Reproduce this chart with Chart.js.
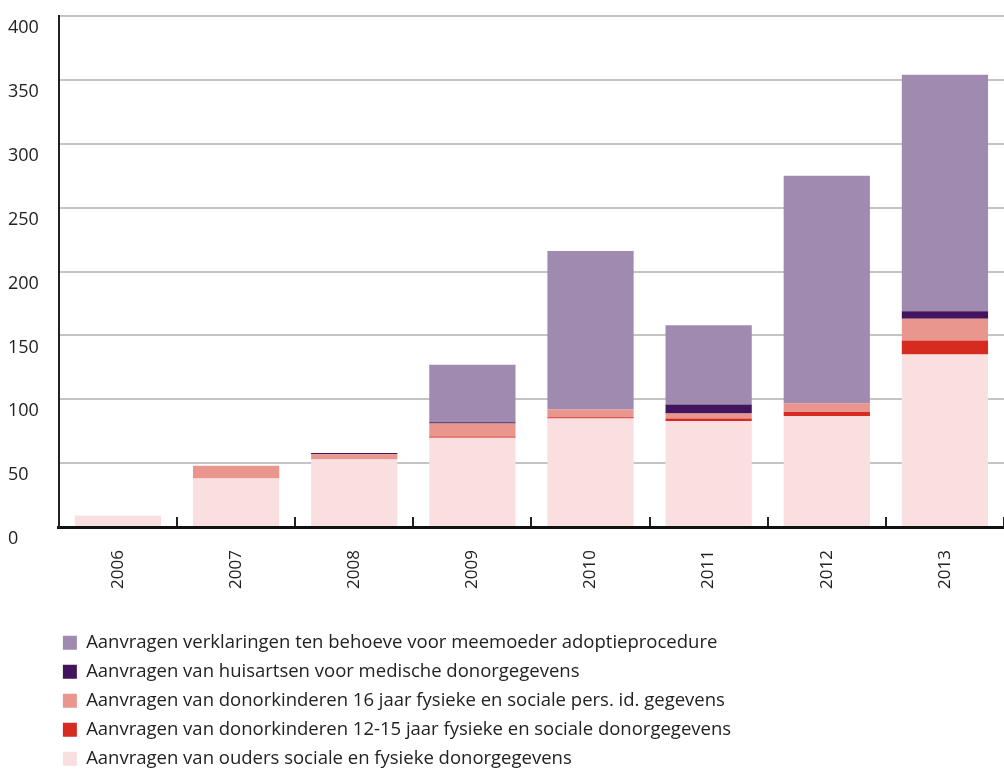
<!DOCTYPE html>
<html>
<head>
<meta charset="utf-8">
<script src="https://cdn.jsdelivr.net/npm/chart.js@4"></script>
<style>
    html, body { margin: 0; padding: 0; background: #fff; }
    #wrap { width: 1004px; height: 769px; }
</style>
</head>
<body>
<div id="wrap"><canvas id="aanvragen-chart"></canvas></div>
<script>
// Years on the x axis
const years = ['2006', '2007', '2008', '2009', '2010', '2011', '2012', '2013'];

// Series values, bottom of the stack first
const ouders = [9, 38, 53, 70, 85, 83, 87, 135];
const donorkinderen1215 = [0, 0, 0, 1, 1, 2, 3, 11];
const donorkinderen16 = [0, 10, 4, 10, 6, 4, 7, 17];
const huisartsen = [0, 0, 1, 1, 0, 7, 0, 6];
const meemoeder = [0, 0, 0, 45, 124, 62, 178, 185];

// Tick labels of the y axis
const yTicks = [0, 50, 100, 150, 200, 250, 300, 350, 400];

const fontFamily = '"Open Sans", sans-serif';

// Nudge the legend so it lines up under the y axis
const legendShift = {
    id: 'legendShift',
    afterLayout: chart => {
        if (chart.legend) {
            chart.legend.left -= 6.5;
            chart.legend.right -= 6.5;
            chart.legend.top += 1;
            chart.legend.bottom += 1;
        }
    }
};

const ctx = document.getElementById('aanvragen-chart');

const myChart = new Chart(ctx, {
    type: 'bar',
    data: {
        labels: years,
        datasets: [
            { label: 'Aanvragen van ouders sociale en fysieke donorgegevens', data: ouders, backgroundColor: '#f9dfdf' },
            { label: 'Aanvragen van donorkinderen 12-15 jaar fysieke en sociale donorgegevens', data: donorkinderen1215, backgroundColor: '#d62b20' },
            { label: 'Aanvragen van donorkinderen 16 jaar fysieke en sociale pers. id. gegevens', data: donorkinderen16, backgroundColor: '#e9968e' },
            { label: 'Aanvragen van huisartsen voor medische donorgegevens', data: huisartsen, backgroundColor: '#42145d' },
            { label: 'Aanvragen verklaringen ten behoeve voor meemoeder adoptieprocedure', data: meemoeder, backgroundColor: '#a08ab0' }
        ]
    },
    plugins: [legendShift],
    options: {
        responsive: true,
        maintainAspectRatio: false,
        animation: false,
        layout: {
            padding: { left: 8, right: 0, top: 16, bottom: -8 }
        },
        datasets: {
            bar: {
                barPercentage: 0.73,
                categoryPercentage: 1,
                borderWidth: 0
            }
        },
        scales: {
            x: {
                stacked: true,
                grid: {
                    drawOnChartArea: false,
                    drawTicks: true,
                    tickLength: -10,
                    color: '#222',
                    lineWidth: 2
                },
                border: { display: true, color: '#111', width: 3 },
                ticks: {
                    minRotation: 90,
                    maxRotation: 90,
                    padding: 33,
                    color: '#222',
                    font: { family: fontFamily, size: 17 }
                }
            },
            y: {
                stacked: true,
                min: 0,
                max: 400,
                afterBuildTicks: axis => {
                    axis.ticks = yTicks.map(v => ({ value: v }));
                },
                // labels sit below their grid line, so no extra room is needed on top
                afterFit: axis => {
                    axis.paddingTop = 0;
                    axis.paddingBottom = 0;
                },
                grid: {
                    drawTicks: false,
                    color: '#c4c4c4',
                    lineWidth: 2
                },
                border: { display: true, color: '#222', width: 2 },
                ticks: {
                    crossAlign: 'far',
                    padding: 10,
                    labelOffset: 12,
                    color: '#222',
                    font: { family: fontFamily, size: 18 }
                }
            }
        },
        plugins: {
            tooltip: { enabled: false },
            legend: {
                position: 'bottom',
                align: 'start',
                fullSize: false,
                reverse: true,
                labels: {
                    boxWidth: 14,
                    boxHeight: 14,
                    padding: 10.5,
                    color: '#222',
                    font: { family: fontFamily, size: 18.5 }
                }
            }
        }
    }
});
</script>
</body>
</html>
